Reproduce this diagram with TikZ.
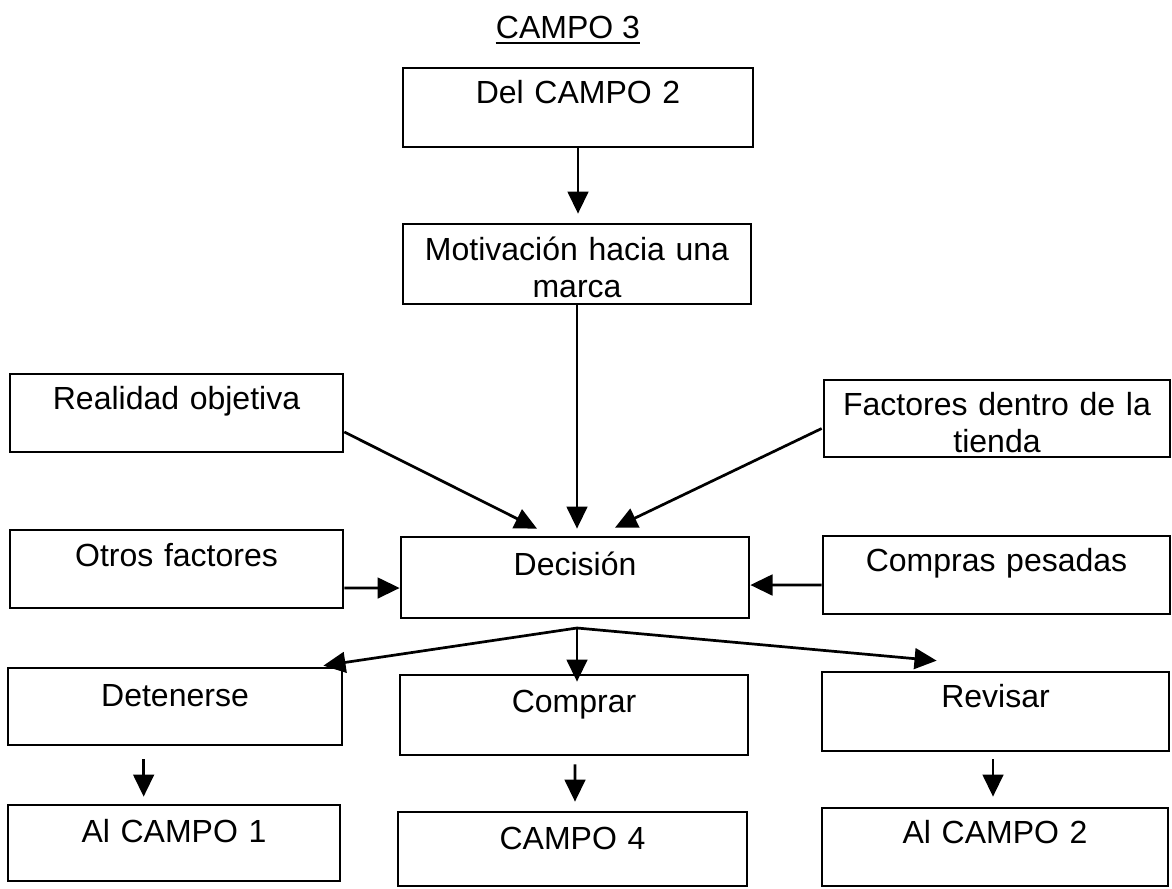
\documentclass[tikz,border=0pt]{standalone}
\usepackage{fontspec}
\setmainfont{Liberation Sans}
\usetikzlibrary{arrows.meta,calc}
\tikzset{
  box/.style={draw, line width=1.9pt, inner sep=0pt, align=center,
              font=\fontsize{22.4}{25.9}\selectfont},
  arr/.style={line width=1.9pt, -{Triangle[length=15.5pt,width=14.5pt]}},
}
\begin{document}
\begin{tikzpicture}[x=0.7pt, y=-0.7pt]
\useasboundingbox (0,0) rectangle (1172,888);

% heading
\node[inner sep=0pt, anchor=base, font=\fontsize{22.4}{25.9}\selectfont] (title) at (568,38) {CAMPO 3};
\draw[line width=1.4pt] ($(title.base west)+(0,5)$) -- ($(title.base east)+(0,5)$);

% central column
\node[box, text width=245pt, text height=24.5pt, text depth=30.8pt] (del) at (578,107.5) {Del CAMPO 2};
\node[box, text width=243.6pt, text height=25.2pt, text depth=30.8pt] (mot) at (577,264) {Motivación hacia una\\marca};
\node[box, text width=243.6pt, text height=26.6pt, text depth=30.1pt] (dec) at (575,577.5) {Decisión};

% influences on the decision
\node[box, text width=233.1pt, text height=24.5pt, text depth=30.1pt] (real) at (176.5,413) {Realidad objetiva};
\node[box, text width=242.2pt, text height=24.5pt, text depth=29.4pt] (fac) at (997,418.5) {Factores dentro de la\\tienda};
\node[box, text width=233.1pt, text height=25.2pt, text depth=29.4pt] (otr) at (176.5,569) {Otros factores};
\node[box, text width=242.9pt, text height=24.5pt, text depth=30.1pt] (cps) at (996.5,575) {Compras pesadas};

% outcomes
\node[box, text width=233.8pt, text height=26.6pt, text depth=27.3pt] (det) at (175,706.5) {Detenerse};
\node[box, text width=243.6pt, text height=25.9pt, text depth=30.1pt] (buy) at (574,715) {Comprar};
\node[box, text width=242.9pt, text height=24.5pt, text depth=30.8pt] (rev) at (995.5,711.5) {Revisar};

% destinations
\node[box, text width=232.4pt, text height=25.9pt, text depth=27.3pt] (al1) at (174,843) {Al CAMPO 1};
\node[box, text width=244.3pt, text height=25.9pt, text depth=25.9pt] (c4) at (572.5,849) {CAMPO 4};
\node[box, text width=242.2pt, text height=24.5pt, text depth=30.1pt] (al2) at (995,847) {Al CAMPO 2};

% main flow
\draw[arr] (del.south) -- ($(mot.north)+(1,-9)$);
\draw[arr] (mot.south) -- ($(dec.north)+(2,-7)$);
\draw[arr] ($(real.east)+(0,19)$) -- ($(dec.north)+(-38,-7)$);
\draw[arr] ($(fac.west)+(-1,10)$) -- ($(dec.north)+(40,-8)$);
\draw[arr] ($(otr.east)+(0,19)$) -- ($(dec.west)+(0,10.5)$);
\draw[arr] ($(cps.west)+(0,10)$) -- ($(dec.east)+(0,7.5)$);

% branching after the decision
\coordinate (split) at (577,628);
\draw[arr] (split) -- ($(det.north east)+(-20,-1)$);
\draw[arr] (split) -- ($(buy.north)+(3,8)$);
\draw[arr] (split) -- ($(rev.north west)+(116,-10)$);

% onward to the other fields
\draw[arr] ($(det.south west)+(137,13)$) -- ($(al1.north west)+(137,-7)$);
\draw[arr] ($(buy.south)+(1,8)$) -- ($(c4.north)+(2.5,-9)$);
\draw[arr] ($(rev.south)+(-2.5,7)$) -- ($(al2.north)+(-2,-10)$);
\end{tikzpicture}
\end{document}
